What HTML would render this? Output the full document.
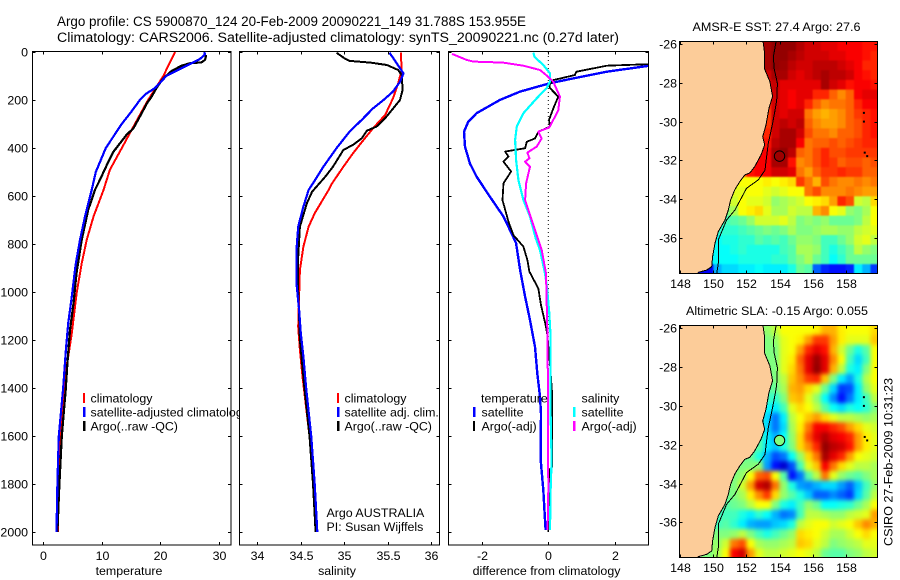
<!DOCTYPE html>
<html lang="en">
<head>
<meta charset="utf-8">
<title>Argo profile</title>
<style>
html,body{margin:0;padding:0;background:#fff;width:900px;height:580px;overflow:hidden}
svg{display:block;font-family:"Liberation Sans",sans-serif;font-size:12.4px;fill:#000}
.frame{fill:none;stroke:#000;stroke-width:1;shape-rendering:crispEdges}
.bg{fill:#fff;stroke:none}
</style>
</head>
<body>
<svg id="figure" xmlns="http://www.w3.org/2000/svg" width="900" height="580" viewBox="0 0 900 580">
<defs>
<clipPath id="clip-temp"><rect x="32.5" y="51.5" width="198.5" height="493.5"/></clipPath>
<clipPath id="clip-sal"><rect x="239.5" y="51.5" width="200" height="493.5"/></clipPath>
<clipPath id="clip-diff"><rect x="448.5" y="51.5" width="200" height="493.5"/></clipPath>
<clipPath id="clip-sst"><rect x="679.5" y="41.5" width="198" height="232"/></clipPath>
<clipPath id="clip-sla"><rect x="679.5" y="325.5" width="198" height="232"/></clipPath>
<filter id="soften-sst" filterUnits="userSpaceOnUse" x="660" y="20" width="240" height="280" color-interpolation-filters="sRGB">
<feGaussianBlur stdDeviation="0.9"/>
<feComponentTransfer><feFuncA type="linear" slope="30"/></feComponentTransfer>
</filter>
<filter id="soften-sla" filterUnits="userSpaceOnUse" x="660" y="300" width="240" height="280" color-interpolation-filters="sRGB">
<feGaussianBlur stdDeviation="2"/>
<feComponentTransfer><feFuncA type="linear" slope="30"/></feComponentTransfer>
</filter>
</defs>
<text x="57" y="26" font-size="13.4" textLength="469" lengthAdjust="spacingAndGlyphs">Argo profile: CS 5900870_124 20-Feb-2009 20090221_149 31.788S 153.955E</text>
<text x="57" y="42" font-size="13.4" textLength="562" lengthAdjust="spacingAndGlyphs">Climatology: CARS2006. Satellite-adjusted climatology: synTS_20090221.nc (0.27d later)</text>

<g id="panel-temp">
<rect class="bg" x="32.5" y="51.5" width="198.5" height="493.5"/>
<g id="marks-temp" clip-path="url(#clip-temp)"></g>
<rect class="frame" x="32.5" y="51.5" width="198.5" height="493.5"/>
<g id="ticks-temp"></g>
<g>
<rect x="83" y="393" width="2" height="10" fill="#f00"/>
<rect x="83" y="407" width="2.5" height="10" fill="#00f"/>
<rect x="83" y="421" width="2.5" height="10" fill="#000"/>
<text x="90.5" y="402.5">climatology</text>
<text x="90.5" y="416.5">satellite-adjusted climatology</text>
<text x="90.5" y="430.5">Argo(..raw -QC)</text>
</g>
<text x="129" y="575" text-anchor="middle">temperature</text>
</g>

<g id="panel-sal">
<rect class="bg" x="239.5" y="51.5" width="200" height="493.5"/>
<g id="marks-sal" clip-path="url(#clip-sal)"></g>
<rect class="frame" x="239.5" y="51.5" width="200" height="493.5"/>
<g id="ticks-sal"></g>
<g>
<rect x="337" y="393" width="2" height="10" fill="#f00"/>
<rect x="337" y="407" width="2.5" height="10" fill="#00f"/>
<rect x="337" y="421" width="2.5" height="10" fill="#000"/>
<text x="344.5" y="402.5">climatology</text>
<text x="344.5" y="416.5">satellite adj. clim.</text>
<text x="344.5" y="430.5">Argo(..raw -QC)</text>
</g>
<text x="326.5" y="517">Argo AUSTRALIA</text>
<text x="326.5" y="531">PI: Susan Wijffels</text>
<text x="337" y="575" text-anchor="middle">salinity</text>
</g>

<g id="panel-diff">
<rect class="bg" x="448.5" y="51.5" width="200" height="493.5"/>
<g id="marks-diff" clip-path="url(#clip-diff)"></g>
<rect class="frame" x="448.5" y="51.5" width="200" height="493.5"/>
<g id="ticks-diff"></g>
<g>
<text x="481" y="402.5">temperature</text>
<rect x="473" y="407" width="2.5" height="10" fill="#00f"/>
<rect x="473" y="421" width="2" height="10" fill="#000"/>
<text x="481.5" y="416.5">satellite</text>
<text x="481.5" y="430.5">Argo(-adj)</text>
<text x="581.5" y="402.5">salinity</text>
<rect x="573" y="407" width="2.5" height="10" fill="#0ff"/>
<rect x="573" y="421" width="2.5" height="10" fill="#f0f"/>
<text x="581.5" y="416.5">satellite</text>
<text x="581.5" y="430.5">Argo(-adj)</text>
</g>
<text x="546.5" y="575" text-anchor="middle">difference from climatology</text>
</g>

<g id="map-sst">
<g id="cells-sst" clip-path="url(#clip-sst)"></g>
<rect class="frame" x="679.5" y="41.5" width="198" height="232"/>
<g id="ticks-sst"></g>
<text x="692.5" y="31" textLength="168" lengthAdjust="spacingAndGlyphs">AMSR-E SST: 27.4 Argo: 27.6</text>
</g>

<g id="map-sla">
<g id="cells-sla" clip-path="url(#clip-sla)"></g>
<rect class="frame" x="679.5" y="325.5" width="198" height="232"/>
<g id="ticks-sla"></g>
<text x="686" y="315" textLength="182" lengthAdjust="spacingAndGlyphs">Altimetric SLA: -0.15 Argo: 0.055</text>
</g>

<text transform="translate(892.5 546) rotate(-90)" textLength="168" lengthAdjust="spacingAndGlyphs">CSIRO 27-Feb-2009 10:31:23</text>
</svg>

<script>
// ---------- axis tick labels ----------
const depthTicks = [0,200,400,600,800,1000,1200,1400,1600,1800,2000];
const tempTicks = [0,10,20,30];
const salTicks = [34,34.5,35,35.5,36];
const diffTicks = [-2,0,2];
const lonTicks = [148,150,152,154,156,158];
const latTicks = [26,28,30,32,34,36];

// ---------- temperature panel ----------
const tempClimDepth = [0,100,150,200,235,325,401,491,575,686,783,881,1006,1172,1269,1325,1400,1600,1800,2000];
const tempClimValue = [22.5,20.5,19.2,17.9,17.1,15.1,13.4,11.4,10.3,8.6,7.45,6.6,5.73,4.9,4.3,3.9,3.6,2.9,2.6,2.55];
const tempSatDepth = [0,10,30,50,75,100,150,175,200,250,300,400,500,575,686,783,887,1019,1131,1242,1394,1600,1800,2000];
const tempSatValue = [27.5,27.6,26.7,25,23,21,19.1,17.5,16.5,15,13.4,10.7,9,8.3,7.15,6.3,5.56,4.9,4.3,3.9,3.45,2.7,2.45,2.3];
const tempArgoDepth = [12,33,43,47,57,79,110,147,186,214,256,318,346,381,416,464,533,575,658,783,922,1047,1158,1297,1408,1600,1800,2000];
const tempArgoValue = [27.8,27.6,27,25,23.6,21.9,20.5,19.4,18.5,17.7,16.8,15.4,14.2,13.1,12,11,9.7,8.85,7.7,6.6,5.7,5.2,4.6,4.15,3.86,3.2,2.8,2.45];

// ---------- salinity panel ----------
const salClimDepth = [3,75,130,193,262,318,367,422,478,547,575,672,728,811,908,1019,1144,1241,1353,1600,1800,2000];
const salClimValue = [35.65,35.66,35.62,35.56,35.47,35.33,35.22,35.1,34.99,34.86,34.82,34.66,34.59,34.53,34.49,34.48,34.47,34.49,34.52,34.6,34.64,34.67];
const salSatDepth = [3,40,89,124,165,200,235,283,332,401,478,547,575,644,728,825,964,1075,1172,1269,1394,1600,1800,2000];
const salSatValue = [35.52,35.59,35.68,35.64,35.56,35.45,35.33,35.2,35.06,34.91,34.76,34.64,34.59,34.53,34.47,34.45,34.45,34.48,34.5,34.53,34.56,34.62,34.66,34.69];
const salArgoDepth = [3,26,37,44,54,75,96,158,200,249,276,311,328,360,387,408,443,478,520,582,630,728,853,992,1200,1394,1600,1800,2000];
const salArgoValue = [34.91,35,35.06,35.3,35.49,35.62,35.66,35.67,35.64,35.53,35.47,35.37,35.26,35.2,35.1,34.99,34.93,34.87,34.78,34.63,34.57,34.49,34.47,34.47,34.49,34.54,34.6,34.64,34.67];

// ---------- difference panel ----------
const diffTempSatDepth = [58,82,110,130,165,200,255,290,332,394,464,519,603,686,769,797,908,1019,1117,1228,1339,1436,1506,1700,1825,1992];
const diffTempSatValue = [3.01,1.76,0.75,0.05,-0.85,-1.46,-2.16,-2.41,-2.54,-2.51,-2.36,-2.16,-1.76,-1.35,-1.06,-0.97,-0.85,-0.7,-0.55,-0.4,-0.33,-0.25,-0.22,-0.23,-0.15,-0.08];
const diffTempArgoDepth = [51,57,82,96,117,138,151,186,235,283,311,332,360,374,401,415,436,457,498,547,617,707,763,811,867,915,985,1054,1145,1179,1300,1436,1727,1740,1825,2000];
const diffTempArgoValue = [3,1.76,0.85,0.8,0.15,0.03,0.05,0.3,0.15,0.02,0.05,-0.3,-0.4,-0.65,-0.7,-1.3,-1.2,-1.35,-1.12,-1.35,-1.38,-1.2,-1.05,-0.75,-0.63,-0.57,-0.3,-0.22,-0.07,-0.03,0.05,0.12,0.12,0.03,0.03,0];
const diffSalSatDepth = [3,20,54,89,124,151,193,255,311,367,450,533,617,686,776,825,922,992,1089,1186,1367,1506,1700,1825,1992];
const diffSalSatValue = [-0.45,-0.42,-0.15,0.05,0.05,-0.05,-0.35,-0.75,-0.95,-1,-0.97,-0.9,-0.75,-0.55,-0.38,-0.25,-0.1,-0.03,0.03,0.07,0.07,0.07,0.1,0.07,0.05];
const diffSalArgoDepth = [8,33,40,44,57,75,100,124,186,242,283,314,332,360,394,419,443,457,478,547,617,700,783,825,922,1033,1200,1500,1825,1992];
const diffSalArgoValue = [-2.9,-2.46,-2.26,-1.36,-0.75,-0.25,-0.03,0.15,0.35,0.3,0.15,0.03,-0.3,-0.2,-0.35,-0.63,-0.57,-0.7,-0.55,-0.67,-0.7,-0.5,-0.3,-0.2,-0.07,-0.05,-0.02,-0.01,0,-0.02];

// ---------- maps: coast and isobath (lon, lat) ----------
const coastLon = [153,153.1,153.1,153.42,153.58,153.36,153.18,152.98,153.1,152.88,152.5,152.2,151.9,151.6,151.3,151.04,150.9,150.7,150.3,150.1,149.95,149.9,149.6,149.1,149,147.9,147.9];
const coastLat = [25.85,26.5,27.3,27.94,28.7,29.3,30.17,30.78,31.2,31.72,32.32,32.65,32.75,33.1,33.5,34.04,34.56,35.07,35.67,36.27,36.96,37.48,37.65,37.77,37.85,37.85,25.85];
const isobathLon = [153.79,153.63,153.67,153.87,153.83,153.73,153.58,153.32,153.22,153.12,152.72,152,151.3,150.8,150.3,150.3,150.2];
const isobathLat = [25.86,26.65,27.25,28.03,28.9,29.4,30.09,31.12,31.8,32.5,33,33.44,34.56,35.07,36.1,37.3,37.85];
const islandLon = [159.1,159.1,159.15,159.3];
const islandLat = [29.55,30,31.6,31.78];
const argoLon = 154;
const argoLat = 31.78;
const argoSstLevel = 97;
const argoSlaLevel = 50;

// ---------- map grids: colour level (0-100 along the jet scale), 0.5 degree cells ----------
const _ = null;
const sstGrid = [
[_,_,_,_,_,_,_,_,_,_,96,98,98,98,95,92,92,90,90,88,88,88,86,86],
[_,_,_,_,_,_,_,_,_,_,96,98,98,96,94,92,92,92,90,90,88,88,86,84],
[_,_,_,_,_,_,_,_,_,_,96,98,97,94,92,92,94,94,94,92,90,88,84,84],
[_,_,_,_,_,_,_,_,_,_,92,96,96,92,90,92,94,96,94,94,92,88,86,84],
[_,_,_,_,_,_,_,_,_,_,90,93,90,90,90,90,90,96,92,90,86,88,88,86],
[_,_,_,_,_,_,_,_,_,_,88,92,90,88,90,90,84,84,78,74,78,88,90,90],
[_,_,_,_,_,_,_,_,_,_,84,92,90,88,90,84,78,74,76,76,78,84,88,88],
[_,_,_,_,_,_,_,_,_,_,82,92,90,92,92,76,72,70,72,74,78,82,84,86],
[_,_,_,_,_,_,_,_,_,_,82,92,94,92,94,78,74,72,72,74,78,80,84,86],
[_,_,_,_,_,_,_,_,_,84,84,92,96,96,92,80,76,76,74,78,78,80,84,86],
[_,_,_,_,_,_,_,_,_,84,86,94,96,96,88,76,78,78,80,78,80,82,84,84],
[_,_,_,_,_,_,_,_,_,88,88,96,98,94,78,76,80,84,80,80,82,82,82,82],
[_,_,_,_,_,_,_,_,86,88,88,96,96,86,74,76,80,84,82,78,80,80,78,80],
[_,_,_,_,_,_,_,78,86,88,88,92,92,90,76,72,78,82,82,84,82,82,78,78],
[_,_,_,_,_,_,62,62,62,62,64,62,64,66,82,76,70,80,76,74,74,76,74,76],
[_,_,_,_,_,_,60,60,62,62,60,58,60,62,62,76,80,74,74,74,76,74,72,72],
[_,_,_,_,_,54,58,62,60,60,58,52,54,56,58,62,64,66,72,84,80,58,56,66],
[_,_,_,_,_,50,54,62,64,66,60,54,54,58,56,56,70,74,62,60,52,50,54,62],
[_,_,_,_,_,44,46,48,52,58,58,58,60,56,50,52,50,52,48,48,48,50,56,62],
[_,_,_,_,42,42,42,44,46,48,50,48,50,54,50,50,52,54,54,52,52,56,58,60],
[_,_,_,_,38,40,40,42,42,46,44,46,44,48,52,52,50,44,44,48,52,58,60,56],
[_,_,_,38,38,38,40,42,40,40,40,40,44,46,54,54,52,44,40,44,48,56,52,50],
[_,_,_,36,38,38,38,40,40,40,40,42,42,46,50,54,48,44,38,42,48,48,48,48],
[_,_,12,12,30,34,34,36,36,38,36,36,36,40,48,46,22,16,14,14,16,36,30,18]
];
const slaGrid = [
[_,_,_,_,_,_,_,_,_,_,52,56,62,62,62,62,64,70,70,64,62,62,62,66],
[_,_,_,_,_,_,_,_,_,_,50,52,60,62,64,72,82,82,72,64,60,60,60,68],
[_,_,_,_,_,_,_,_,_,_,50,50,60,62,72,84,90,86,70,58,48,40,46,62],
[_,_,_,_,_,_,_,_,_,_,50,50,60,64,78,90,97,90,74,62,44,34,44,62],
[_,_,_,_,_,_,_,_,_,_,50,50,60,66,76,90,98,90,70,56,40,36,50,62],
[_,_,_,_,_,_,_,_,_,_,48,50,56,68,74,82,84,68,50,36,28,40,55,62],
[_,_,_,_,_,_,_,_,_,_,46,48,54,70,72,66,60,48,34,18,20,36,52,60],
[_,_,_,_,_,_,_,_,_,_,44,42,50,68,70,60,52,38,26,14,24,36,44,56],
[_,_,_,_,_,_,_,_,_,_,38,36,44,60,66,62,56,46,38,34,40,38,42,50],
[_,_,_,_,_,_,_,_,_,44,34,24,36,56,62,68,72,66,60,56,56,54,52,54],
[_,_,_,_,_,_,_,_,_,44,34,24,34,54,64,76,88,88,84,80,72,66,60,58],
[_,_,_,_,_,_,_,_,_,46,36,30,38,52,66,80,90,95,90,88,84,72,64,60],
[_,_,_,_,_,_,_,_,48,46,36,32,40,50,66,74,84,98,94,92,86,72,64,60],
[_,_,_,_,_,_,_,48,48,40,30,20,24,38,52,66,76,96,90,84,72,62,60,58],
[_,_,_,_,_,_,_,50,50,52,28,14,8,20,44,60,68,88,76,66,60,56,56,54],
[_,_,_,_,_,_,50,52,62,78,80,62,46,14,24,46,56,76,60,52,48,46,50,54],
[_,_,_,_,_,50,50,58,72,92,95,76,52,40,28,26,30,34,34,28,22,32,44,52],
[_,_,_,_,_,48,50,54,64,74,82,66,52,46,40,32,22,22,26,22,18,34,46,56],
[_,_,_,_,44,46,48,50,56,62,62,50,40,36,44,52,48,38,38,40,42,48,54,62],
[_,_,_,_,44,44,44,40,36,42,38,30,24,26,44,56,56,54,52,52,56,58,60,72],
[_,_,_,_,44,46,42,36,30,28,28,32,34,40,56,60,62,62,58,60,62,68,74,70],
[_,_,_,_,50,50,52,56,50,44,40,44,48,52,66,64,62,58,54,54,58,62,66,62],
[_,_,_,_,52,58,76,80,62,54,52,52,54,56,68,66,60,56,50,52,54,56,60,60],
[_,_,_,50,54,62,88,92,72,60,56,56,58,60,62,60,56,48,46,46,50,52,56,58]
];

// ---------- scales ----------
const depthY = d => 52 + d * 0.24;
const tempX = v => 43 + v * 5.87;
const salX = v => 257.3 + (v - 34) * 87;
const diffX = v => 548.3 + v * 33.2;
const lonX = lon => 680.3 + (lon - 148) * 16.54;
const sstLatY = lat => 44 + (lat - 26) * 19.4;
const slaLatY = lat => 328.3 + (lat - 26) * 19.4;
const gridLonStart = 148, gridLatStart = 25.85, gridStep = 0.5;

const NS = 'http://www.w3.org/2000/svg';
function mk(parent, tag, attrs){
  const el = document.createElementNS(NS, tag);
  for (const k in attrs) el.setAttribute(k, attrs[k]);
  parent.appendChild(el);
  return el;
}
function jet(p){
  const t = Math.max(0, Math.min(1, p / 100));
  const seg = (c) => Math.max(0, Math.min(1, 1.5 - Math.abs(4 * t - c)));
  return 'rgb(' + Math.round(255 * seg(3)) + ',' + Math.round(255 * seg(2)) + ',' + Math.round(255 * seg(1)) + ')';
}
function pathOf(xs, ys){
  return xs.map((x, i) => (i ? 'L' : 'M') + x.toFixed(1) + ' ' + ys[i].toFixed(1)).join('');
}

function drawProfile(groupId, scaleX, depths, values, colour, width){
  const g = document.getElementById(groupId);
  const line = mk(g, 'path', {d: pathOf(values.map(scaleX), depths.map(depthY)), fill: 'none', stroke: colour, 'stroke-width': width, 'stroke-linejoin': 'round', 'shape-rendering': 'crispEdges'});
  
  
}

// marks, red first then the later series on top
drawProfile('marks-temp', tempX, tempClimDepth, tempClimValue, '#f00', 2);
drawProfile('marks-temp', tempX, tempArgoDepth, tempArgoValue, '#000', 2.2);
drawProfile('marks-temp', tempX, tempSatDepth, tempSatValue, '#00f', 2.2);
drawProfile('marks-sal', salX, salClimDepth, salClimValue, '#f00', 2);
drawProfile('marks-sal', salX, salArgoDepth, salArgoValue, '#000', 2);
drawProfile('marks-sal', salX, salSatDepth, salSatValue, '#00f', 2.2);

// zero reference in the difference panel
const zeroLine = mk(document.getElementById('marks-diff'), 'line', {x1: diffX(0), x2: diffX(0), y1: depthY(0), y2: depthY(2000), stroke: '#000', 'stroke-width': 1, 'stroke-dasharray': '1 3'});


drawProfile('marks-diff', diffX, diffTempSatDepth, diffTempSatValue, '#00f', 2.4);
drawProfile('marks-diff', diffX, diffTempArgoDepth, diffTempArgoValue, '#000', 1.8);
drawProfile('marks-diff', diffX, diffSalSatDepth, diffSalSatValue, '#0ff', 2.2);
drawProfile('marks-diff', diffX, diffSalArgoDepth, diffSalArgoValue, '#f0f', 2);

// profile-panel ticks
function profileTicks(groupId, scaleX, labels, left, right, top, bottom, showDepthLabels){
  const g = document.getElementById(groupId);
  depthTicks.forEach(d => {
    const y = Math.round(depthY(d)) + 0.5;
    const a = mk(g, 'path', {d: 'M' + left + ' ' + y + 'h3M' + right + ' ' + y + 'h-3', stroke: '#000', 'shape-rendering': 'crispEdges'});
    
    
    if (showDepthLabels) {
      const t = mk(g, 'text', {x: 28, y: y + 3.8, 'text-anchor': 'end'});
      t.textContent = String(d);
      
      
    }
  });
  labels.forEach(v => {
    const x = Math.round(scaleX(v)) + 0.5;
    const a = mk(g, 'path', {d: 'M' + x + ' ' + top + 'v3M' + x + ' ' + bottom + 'v-3', stroke: '#000', 'shape-rendering': 'crispEdges'});
    
    
    const t = mk(g, 'text', {x: x, y: 560, 'text-anchor': 'middle'});
    t.textContent = String(v);
    
    
  });
}
profileTicks('ticks-temp', tempX, tempTicks, 32.5, 231, 51.5, 545, true);
profileTicks('ticks-sal', salX, salTicks, 239.5, 439.5, 51.5, 545, false);
profileTicks('ticks-diff', diffX, diffTicks, 448.5, 648.5, 51.5, 545, false);

// maps
function drawMap(cellId, tickId, filterId, grid, latY, argoLevel, top, bottom, labelY){
  const g = document.getElementById(cellId);
  const cells = mk(g, 'g', {filter: 'url(#' + filterId + ')'});
  
  
  grid.forEach((row, r) => {
    row.forEach((level, c) => {
      if (level === null) return;
      const x0 = lonX(gridLonStart + c * gridStep), x1 = lonX(gridLonStart + (c + 1) * gridStep);
      const y0 = latY(gridLatStart + r * gridStep), y1 = latY(gridLatStart + (r + 1) * gridStep);
      const cell = mk(cells, 'rect', {x: x0.toFixed(2), y: y0.toFixed(2), width: (x1 - x0 + 0.3).toFixed(2), height: (y1 - y0 + 0.3).toFixed(2), fill: jet(level)});
      
      
    });
  });
  const land = mk(g, 'path', {d: pathOf(coastLon.map(lonX), coastLat.map(latY)) + 'Z', fill: '#fccc99', stroke: '#000', 'stroke-width': 1, 'shape-rendering': 'crispEdges'});
  
  
  const iso = mk(g, 'path', {d: pathOf(isobathLon.map(lonX), isobathLat.map(latY)), fill: 'none', stroke: '#000', 'stroke-width': 1, 'shape-rendering': 'crispEdges'});
  
  
  islandLon.forEach((lon, i) => {
    const dot = mk(g, 'rect', {x: lonX(lon) - 1, y: latY(islandLat[i]) - 1, width: 2, height: 2, fill: '#000'});
    
    
  });
  const argo = mk(g, 'circle', {cx: lonX(argoLon), cy: latY(argoLat), r: 5.2, fill: jet(argoLevel), stroke: '#000', 'stroke-width': 1});
  
  

  const tg = document.getElementById(tickId);
  lonTicks.forEach(lon => {
    const x = Math.round(lonX(lon)) + 0.5;
    const a = mk(tg, 'path', {d: 'M' + x + ' ' + top + 'v3M' + x + ' ' + bottom + 'v-3', stroke: '#000', 'shape-rendering': 'crispEdges'});
    
    
    const t = mk(tg, 'text', {x: x, y: labelY, 'text-anchor': 'middle'});
    t.textContent = String(lon);
    
    
  });
  latTicks.forEach(lat => {
    const y = Math.round(latY(lat)) + 0.5;
    const a = mk(tg, 'path', {d: 'M679.5 ' + y + 'h3M877.5 ' + y + 'h-3', stroke: '#000', 'shape-rendering': 'crispEdges'});
    
    
    const t = mk(tg, 'text', {x: 677, y: y + 3.8, 'text-anchor': 'end'});
    t.textContent = '-' + lat;
    
    
  });
}
drawMap('cells-sst', 'ticks-sst', 'soften-sst', sstGrid, sstLatY, argoSstLevel, 41.5, 273.5, 288);
drawMap('cells-sla', 'ticks-sla', 'soften-sla', slaGrid, slaLatY, argoSlaLevel, 325.5, 557.5, 572);
</script>
</body>
</html>
